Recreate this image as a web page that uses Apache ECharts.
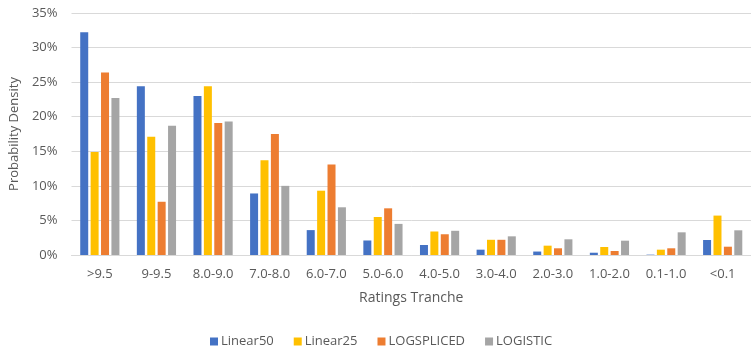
<!DOCTYPE html>
<html>
<head>
<meta charset="utf-8">
<script src="https://cdn.jsdelivr.net/npm/echarts@6/dist/echarts.min.js"></script>
<style>
  html, body { margin: 0; padding: 0; background: #ffffff; }
  #chart { width: 751px; height: 356px; }
</style>
</head>
<body>
<div id="chart"></div>
<script>
// Rating tranches on the category axis
const categories = ['>9.5', '9-9.5', '8.0-9.0', '7.0-8.0', '6.0-7.0', '5.0-6.0', '4.0-5.0', '3.0-4.0', '2.0-3.0', '1.0-2.0', '0.1-1.0', '<0.1'];

// Probability density per tranche (percent)
const linear50   = [32.2, 24.4, 23.0, 8.9, 3.6, 2.1, 1.45, 0.77, 0.5, 0.33, 0.05, 2.17];
const linear25   = [14.9, 17.1, 24.4, 13.7, 9.3, 5.5, 3.4, 2.2, 1.35, 1.16, 0.77, 5.7];
const logSpliced = [26.4, 7.7, 19.1, 17.5, 13.1, 6.75, 3.0, 2.2, 0.97, 0.58, 0.97, 1.2];
const logistic   = [22.7, 18.7, 19.3, 10.0, 6.9, 4.5, 3.5, 2.7, 2.27, 2.07, 3.28, 3.57];

const seriesNames = ['Linear50', 'Linear25', 'LOGSPLICED', 'LOGISTIC'];
const seriesColors = ['#4472C4', '#FFC000', '#ED7D31', '#A5A5A5'];
const seriesData = [linear50, linear25, logSpliced, logistic];

const textColor = '#595959';
const fontFamily = 'Open Sans, Lato, sans-serif';

const chart = echarts.init(document.getElementById('chart'));
chart.setOption({
  animation: false,
  backgroundColor: '#ffffff',
  textStyle: { fontFamily: fontFamily, color: textColor },
  grid: { left: 71, right: -5, top: 13, bottom: 101, containLabel: false },
  legend: {
    data: seriesNames,
    bottom: 3,
    left: 205,
    itemWidth: 8,
    itemHeight: 8,
    itemGap: 20,
    icon: 'rect',
    textStyle: { fontSize: 13, color: textColor, fontFamily: fontFamily, padding: [0, 0, 0, -2] }
  },
  xAxis: {
    type: 'category',
    data: categories,
    name: 'Ratings Tranche',
    nameLocation: 'middle',
    nameGap: 36,
    nameTextStyle: { fontSize: 14, color: textColor, fontFamily: fontFamily },
    axisLine: { show: true, lineStyle: { color: '#D9D9D9' } },
    axisTick: { show: false },
    axisLabel: { fontSize: 13, color: textColor, margin: 13, interval: 0 }
  },
  yAxis: {
    type: 'value',
    min: 0,
    max: 35,
    interval: 5,
    name: 'Probability Density',
    nameLocation: 'middle',
    nameGap: 49,
    nameTextStyle: { fontSize: 13, color: textColor, fontFamily: fontFamily },
    axisLine: { show: false },
    axisTick: { show: false },
    axisLabel: { fontSize: 13, color: textColor, margin: 14, formatter: '{value}%' },
    splitLine: { lineStyle: { color: '#D9D9D9', width: 1 } }
  },
  series: seriesNames.map((name, i) => ({
    name: name,
    type: 'bar',
    data: seriesData[i],
    barWidth: 8,
    barGap: '30%',
    itemStyle: { color: seriesColors[i] }
  }))
});
</script>
</body>
</html>
